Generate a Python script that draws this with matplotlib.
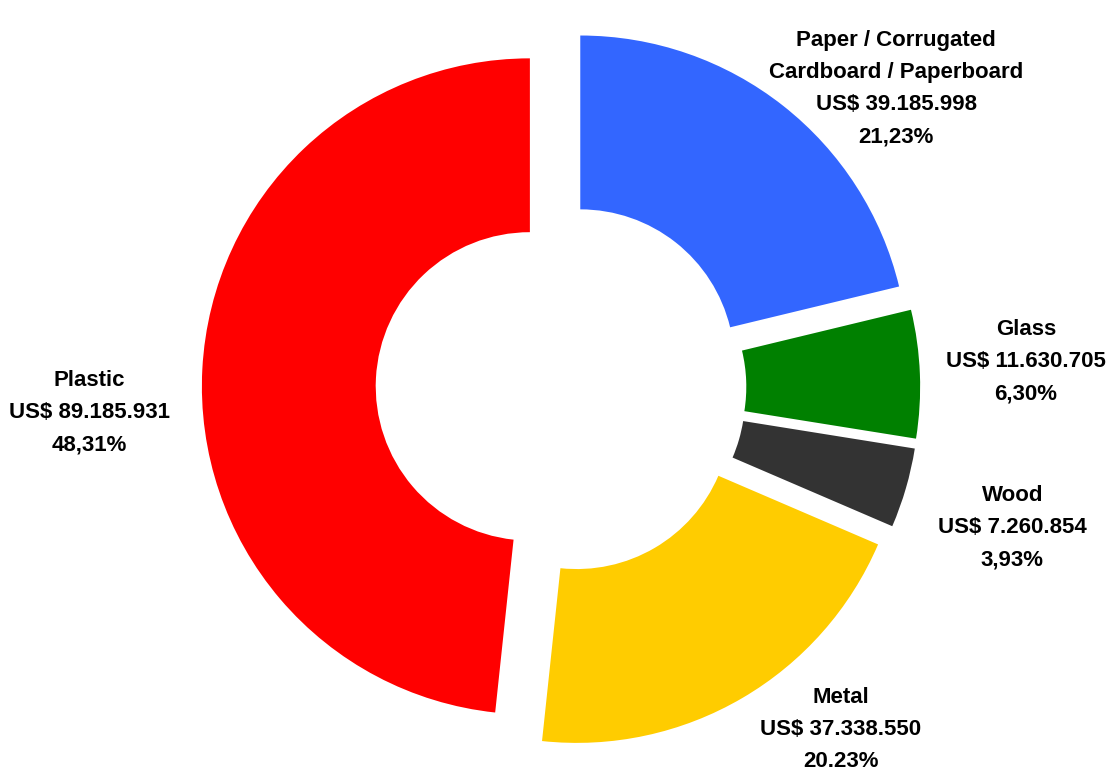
import numpy as np
import matplotlib
matplotlib.use("Agg")
import matplotlib.pyplot as plt

materials = ["Paper / Corrugated\nCardboard / Paperboard", "Glass", "Wood", "Metal", "Plastic"]
values = [39185998, 11630705, 7260854, 37338550, 89185931]
value_labels = ["US$ 39.185.998", "US$ 11.630.705", "US$ 7.260.854", "US$ 37.338.550", "US$ 89.185.931"]
pct_labels = ["21,23%", "6,30%", "3,93%", "20.23%", "48,31%"]
colors = ["#3366FF", "#008000", "#333333", "#FFCC00", "#FF0000"]

# label placement (distance from centre, angular nudge in degrees)
label_dist = [1.37, 1.42, 1.44, 1.345, 1.44]
label_nudge = [-10, 1, -1, 9, 6]

plt.rcParams['font.family'] = ['Liberation Sans', 'DejaVu Sans']

fig = plt.figure(figsize=(11.15, 7.75), dpi=100)
ax = fig.add_axes([0, 0, 1, 1])

wedges, _ = ax.pie(values, colors=colors, startangle=90, counterclock=False,
                   radius=1.0, explode=[0.095] * 5,
                   wedgeprops=dict(width=0.53, edgecolor="none"))

for w, name, v, p, d, n in zip(wedges, materials, value_labels, pct_labels, label_dist, label_nudge):
    mid = np.deg2rad((w.theta1 + w.theta2) / 2 + n)
    ax.text(d * np.cos(mid), d * np.sin(mid), f"{name}\n{v}\n{p}",
            ha="center", va="center", fontsize=16, fontweight="bold",
            linespacing=1.7, color="black")

ax.set_aspect("equal")
ax.set_xlim(-561 / 328, (1115 - 561) / 328)
ax.set_ylim(-(775 - 388) / 328, 388 / 328)
ax.axis("off")

fig.savefig("out.png", dpi=100)
